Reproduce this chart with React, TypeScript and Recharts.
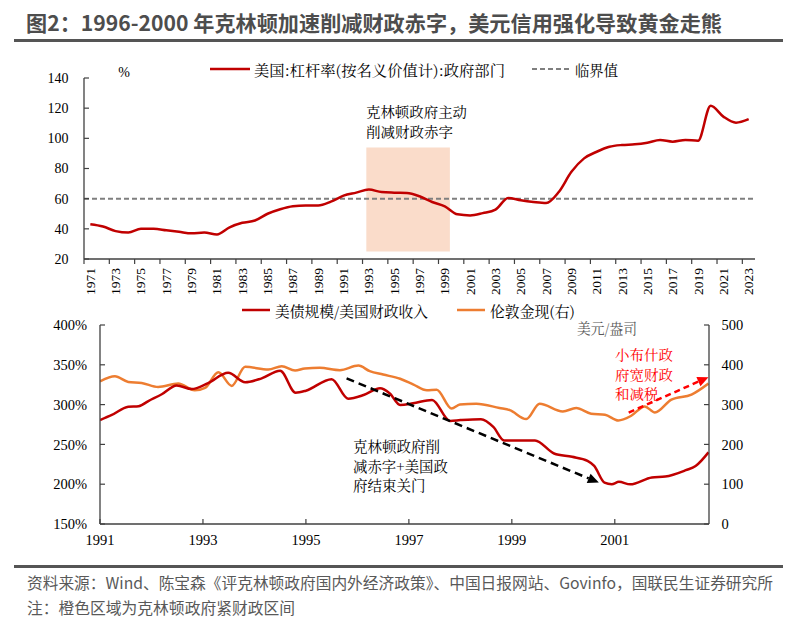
import React from 'react';
import { LineChart, Line, XAxis, YAxis, ReferenceLine, ReferenceArea } from 'recharts';

// ---------- upper chart data ----------
const leverageYears = [
  1971, 1972, 1973, 1974, 1975, 1976, 1977, 1978, 1979, 1980, 1981, 1982, 1983, 1984, 1985, 1986, 1987, 1988,
  1989, 1990, 1991, 1992, 1993, 1994, 1995, 1996, 1997, 1998, 1999, 2000, 2001, 2002, 2003, 2004, 2005, 2006,
  2007, 2008, 2009, 2010, 2011, 2012, 2013, 2014, 2015, 2016, 2017, 2018, 2019, 2020, 2021, 2022, 2023,
];
const leverageValues = [
  43, 41.5, 38.5, 37.5, 40, 40, 39, 38, 37, 37.5, 36.3, 41, 44, 45.5, 50, 53, 55, 55.5,
  55.5, 58, 62, 64, 66, 64.4, 64, 63.8, 61.6, 57.8, 54.9, 49.6, 48.9, 50.4, 52.7, 60.4, 58.9, 57.8,
  57.1, 64.4, 77.8, 86.7, 91.1, 94.4, 95.6, 96, 97.1, 98.9, 97.8, 98.9, 98.4, 121.6, 114.4, 110.4, 112.7,
];
const leverageYearTicks = [
  1971, 1973, 1975, 1977, 1979, 1981, 1983, 1985, 1987, 1989, 1991, 1993, 1995, 1997, 1999, 2001, 2003, 2005,
  2007, 2009, 2011, 2013, 2015, 2017, 2019, 2021, 2023,
];
const leverageValueTicks = [20, 40, 60, 80, 100, 120, 140];
const criticalLevel = 60;
const tightPeriodYears = [1992.8, 1999.4];
const tightPeriodLevels = [25, 94];

// ---------- lower chart data ----------
const debtTimes = [
  1991.0, 1991.23, 1991.55, 1991.75, 1991.94, 1992.2, 1992.49, 1992.78, 1993.1, 1993.49, 1993.82, 1994.14,
  1994.5, 1994.8, 1995.0, 1995.5, 1995.82, 1996.12, 1996.44, 1996.63, 1996.83, 1997.08, 1997.45, 1997.8,
  1998.0, 1998.4, 1998.64, 1998.85, 1999.45, 1999.82, 2000.17, 2000.47, 2000.6, 2000.8, 2000.94, 2001.08,
  2001.3, 2001.72, 2001.98, 2002.38, 2002.57, 2002.82,
];
const debtRatioValues = [
  280.6, 287, 297.4, 298, 304.5, 313, 324, 319.5, 327, 340, 328, 333,
  342.5, 315, 317.5, 332, 307.5, 312, 320.5, 314, 299.5, 301.6, 305.8, 279.5,
  280.5, 281.7, 272, 255, 255, 238.6, 234.4, 229.4, 223, 202, 200, 203,
  199.8, 208.5, 209.6, 217.6, 222.8, 240,
];
const goldTimes = [
  1991.0, 1991.29, 1991.55, 1991.81, 1992.13, 1992.52, 1992.84, 1993.04, 1993.3, 1993.56, 1993.82, 1994.27,
  1994.53, 1994.79, 1994.98, 1995.27, 1995.66, 1996.02, 1996.24, 1996.5, 1996.83, 1997.09, 1997.35, 1997.54,
  1997.83, 1997.99, 1998.31, 1998.76, 1998.96, 1999.28, 1999.54, 1999.99, 2000.25, 2000.54, 2000.81, 2001.07,
  2001.32, 2001.58, 2001.78, 2002.1, 2002.49, 2002.82,
];
const goldPriceValues = [
  358.6, 371, 357, 354.5, 344.4, 352.8, 336, 342, 381, 347, 395, 388,
  396.5, 385.6, 391, 392.4, 386.5, 398.2, 384, 375.5, 365, 350.3, 336, 337.6,
  290, 300, 302.3, 291.4, 286, 263.6, 302.3, 282.8, 291.4, 277, 274.5, 260.1,
  272, 295.5, 280.3, 312.4, 325, 352.8,
];
const lowerYearTicks = [1991, 1993, 1995, 1997, 1999, 2001];
const lowerDomain = [1991, 2002.83];
const ratioTicks = [150, 200, 250, 300, 350, 400];
const goldTicks = [0, 100, 200, 300, 400, 500];
const cutArrow = [
  { x: 1995.79, y: 333 },
  { x: 2000.69, y: 202 },
];
const bushArrow = [
  { x: 2001.27, y: 290 },
  { x: 2002.82, y: 334.5 },
];

// ---------- texts ----------
const titleText = '图2：1996-2000 年克林顿加速削减财政赤字，美元信用强化导致黄金走熊';
const upperLegend = ['美国:杠杆率(按名义价值计):政府部门', '临界值'];
const upperNote = ['克林顿政府主动', '削减财政赤字'];
const lowerLegend = ['美债规模/美国财政收入', '伦敦金现(右)'];
const lowerNote = ['克林顿政府削', '减赤字+美国政', '府结束关门'];
const bushNote = ['小布什政', '府宽财政', '和减税'];
const goldUnit = '美元/盎司';
const sourceText = '资料来源：Wind、陈宝森《评克林顿政府国内外经济政策》、中国日报网站、Govinfo，国联民生证券研究所';
const noteText = '注：橙色区域为克林顿政府紧财政区间';

// ---------- styles ----------
const RED = '#C00000';
const ORANGE = '#ED7D31';
const AXIS = '#404040';
const SERIF = "'Liberation Serif', 'Noto Serif CJK SC', 'Noto Sans CJK SC', serif";
const CJK = "'Noto Serif CJK SC', 'Noto Sans CJK SC', sans-serif";
const SANS = "'Noto Sans CJK SC', sans-serif";

const upperData = leverageYears.map((y, i) => ({ year: y, value: leverageValues[i] }));
const debtData = debtTimes.map((t, i) => ({ t, ratio: debtRatioValues[i] }));
const goldData = goldTimes.map((t, i) => ({ t, gold: goldPriceValues[i] }));

const UP_LEFT = 84;
const UP_RIGHT = 45;
const UP_W = 800;
const HALF_STEP = (UP_W - UP_LEFT - UP_RIGHT) / (leverageYears.length) / 2;

function YearTick(props: any) {
  const { x, y, payload } = props;
  const ty = y + 9;
  return (
    <g>
      <line x1={x - HALF_STEP} x2={x - HALF_STEP} y1={y} y2={y + 5} stroke={AXIS} strokeWidth={1.2} />
      <text
        x={x}
        y={ty}
        transform={`rotate(-90 ${x} ${ty})`}
        textAnchor="end"
        dominantBaseline="central"
        fontSize={13.5}
        fontFamily={SERIF}
        fill="#000"
      >
        {payload.value}
      </text>
    </g>
  );
}

const arrowShape = (color: string, dash: string) => (p: any) => {
  const { x1, y1, x2, y2 } = p;
  const ang = Math.atan2(y2 - y1, x2 - x1);
  const L = 11;
  const W = 5;
  const bx = x2 - L * Math.cos(ang);
  const by = y2 - L * Math.sin(ang);
  const px = -Math.sin(ang) * W;
  const py = Math.cos(ang) * W;
  return (
    <g>
      <line x1={x1} y1={y1} x2={bx} y2={by} stroke={color} strokeWidth={2.5} strokeDasharray={dash} />
      <polygon points={`${x2},${y2} ${bx + px},${by + py} ${bx - px},${by - py}`} fill={color} />
    </g>
  );
};

function T(props: any) {
  const { x, y, children, size = 14.5, len, fill = '#000', family = CJK, weight = 400, anchor = 'start' } = props;
  return (
    <text
      x={x}
      y={y}
      fontSize={size}
      fontFamily={family}
      fontWeight={weight}
      fill={fill}
      textAnchor={anchor}
      dominantBaseline="central"
      textLength={len}
      lengthAdjust={len ? 'spacingAndGlyphs' : undefined}
    >
      {children}
    </text>
  );
}

export default function App() {
  const tickStyle = { fontSize: 14, fontFamily: SERIF, fill: '#000' };
  const tickStyle2 = { fontSize: 14.5, fontFamily: SERIF, fill: '#000' };
  return (
    <div style={{ position: 'absolute', left: 0, top: 0, width: 800, height: 619, background: '#fff', overflow: 'hidden' }}>
      <div style={{ position: 'absolute', left: 0, top: 0 }}>
        <LineChart width={UP_W} height={300} data={upperData} margin={{ top: 78, right: UP_RIGHT, bottom: 0, left: 0 }}>
          <XAxis
            dataKey="year"
            type="number"
            domain={[1970.5, 2023.5]}
            ticks={leverageYearTicks}
            interval={0}
            height={41}
            tickSize={0}
            tickMargin={0}
            tickLine={false}
            axisLine={{ stroke: AXIS, strokeWidth: 1.3 }}
            tick={<YearTick />}
            allowDataOverflow
          />
          <YAxis
            type="number"
            domain={[20, 140]}
            ticks={leverageValueTicks}
            interval={0}
            width={UP_LEFT}
            tickSize={-5}
            tickMargin={20.5}
            tick={tickStyle}
            tickLine={{ stroke: AXIS, strokeWidth: 1.2 }}
            axisLine={{ stroke: AXIS, strokeWidth: 1.3 }}
          />
          <ReferenceArea
            x1={tightPeriodYears[0]}
            x2={tightPeriodYears[1]}
            y1={tightPeriodLevels[0]}
            y2={tightPeriodLevels[1]}
            fill="#FADCCA"
            fillOpacity={1}
            stroke="none"
            ifOverflow="visible"
          />
          <ReferenceLine y={criticalLevel} stroke="#7F7F7F" strokeWidth={2} strokeDasharray="5 3" />
          <Line
            dataKey="value"
            type="monotone"
            stroke={RED}
            strokeWidth={2.5}
            dot={false}
            activeDot={false}
            isAnimationActive={false}
          />
        </LineChart>
      </div>

      <div style={{ position: 'absolute', left: 0, top: 300 }}>
        <LineChart width={800} height={250} margin={{ top: 25, right: 0, bottom: 0, left: 0 }}>
          <XAxis
            dataKey="t"
            type="number"
            domain={lowerDomain}
            ticks={lowerYearTicks}
            interval={0}
            height={26}
            tickSize={-5}
            tickMargin={16}
            tick={tickStyle2}
            tickLine={{ stroke: AXIS, strokeWidth: 1.2 }}
            axisLine={{ stroke: AXIS, strokeWidth: 1.3 }}
            allowDataOverflow
          />
          <YAxis
            yAxisId="left"
            type="number"
            domain={[150, 400]}
            ticks={ratioTicks}
            interval={0}
            width={100}
            tickSize={-5}
            tickMargin={18}
            tick={tickStyle2}
            tickFormatter={(v: number) => `${v}%`}
            tickLine={{ stroke: AXIS, strokeWidth: 1.2 }}
            axisLine={{ stroke: AXIS, strokeWidth: 1.3 }}
          />
          <YAxis
            yAxisId="right"
            orientation="right"
            type="number"
            domain={[0, 500]}
            ticks={goldTicks}
            interval={0}
            width={91}
            tickSize={-5}
            tickMargin={17.5}
            tick={tickStyle2}
            tickLine={{ stroke: AXIS, strokeWidth: 1.2 }}
            axisLine={{ stroke: AXIS, strokeWidth: 1.3 }}
          />
          <Line
            yAxisId="right"
            data={goldData}
            dataKey="gold"
            type="monotone"
            stroke={ORANGE}
            strokeWidth={2.5}
            dot={false}
            activeDot={false}
            isAnimationActive={false}
          />
          <Line
            yAxisId="left"
            data={debtData}
            dataKey="ratio"
            type="monotone"
            stroke={RED}
            strokeWidth={2.5}
            dot={false}
            activeDot={false}
            isAnimationActive={false}
          />
          <ReferenceLine
            yAxisId="left"
            segment={cutArrow}
            ifOverflow="visible"
            shape={arrowShape('#000', '8 5')}
          />
          <ReferenceLine
            yAxisId="left"
            segment={bushArrow}
            ifOverflow="visible"
            shape={arrowShape('#FF0000', '6 4')}
          />
        </LineChart>
      </div>

      <svg
        width={800}
        height={619}
        style={{ position: 'absolute', left: 0, top: 0, pointerEvents: 'none' }}
      >
        <T x={26} y={22} size={21} weight={700} fill="#4D4D4D" family={SANS} len={696}>{titleText}</T>
        <rect x={14} y={39} width={769} height={3} fill="#555" />

        <T x={124} y={72} size={14} family={SERIF} anchor="middle">%</T>
        <line x1={210} x2={250} y1={69} y2={69} stroke={RED} strokeWidth={2.5} />
        <T x={254} y={69} len={251}>{upperLegend[0]}</T>
        <line x1={532} x2={570} y1={69} y2={69} stroke="#7F7F7F" strokeWidth={2} strokeDasharray="5 3" />
        <T x={575} y={69} len={43}>{upperLegend[1]}</T>
        <T x={366} y={111} size={14} len={101}>{upperNote[0]}</T>
        <T x={366} y={130.5} size={14} len={87}>{upperNote[1]}</T>

        <line x1={242} x2={270} y1={310} y2={310} stroke={RED} strokeWidth={2.5} />
        <T x={275} y={310} len={153}>{lowerLegend[0]}</T>
        <line x1={457} x2={485} y1={310} y2={310} stroke={ORANGE} strokeWidth={2.5} />
        <T x={490} y={310} len={85}>{lowerLegend[1]}</T>
        <T x={577} y={327} fill="#595959" len={60}>{goldUnit}</T>

        <T x={353} y={445} len={87}>{lowerNote[0]}</T>
        <T x={353} y={465} len={95}>{lowerNote[1]}</T>
        <T x={353} y={484.5} len={72.5}>{lowerNote[2]}</T>

        <T x={615} y={354} size={14} fill="#FF0000" len={58}>{bushNote[0]}</T>
        <T x={615} y={373.5} size={14} fill="#FF0000" len={58}>{bushNote[1]}</T>
        <T x={615} y={393} size={14} fill="#FF0000" len={43.5}>{bushNote[2]}</T>

        <rect x={14} y={565} width={769} height={3} fill="#555" />
        <T x={27} y={582} size={15.5} fill="#595959" family={SANS} len={746}>{sourceText}</T>
        <T x={27} y={607} size={15.5} fill="#595959" family={SANS} len={268}>{noteText}</T>
      </svg>
    </div>
  );
}
